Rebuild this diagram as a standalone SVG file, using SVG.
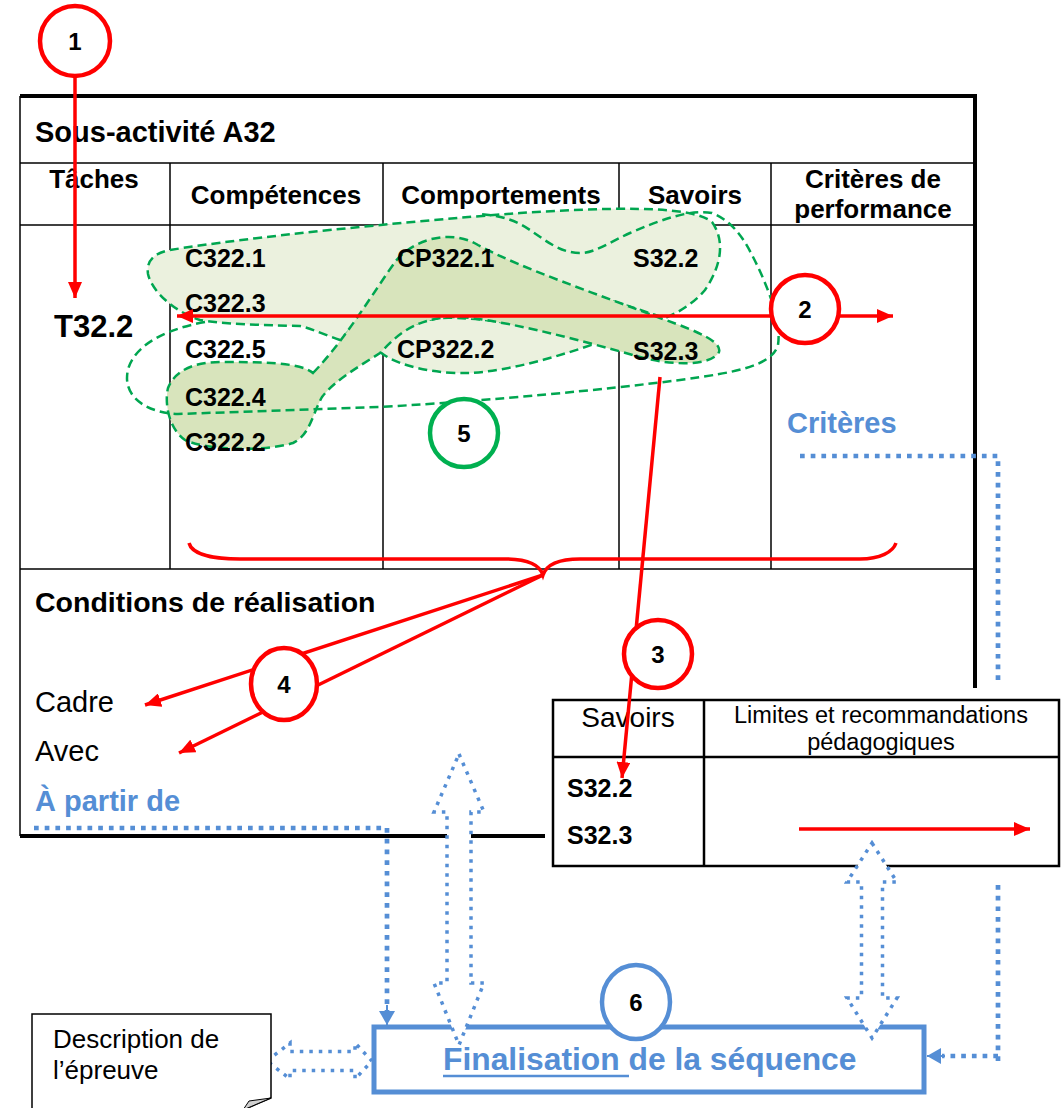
<svg xmlns="http://www.w3.org/2000/svg" width="1062" height="1108" viewBox="0 0 1062 1108">
<defs>
<style>
.t{font-family:"Liberation Sans",Arial,sans-serif;fill:#000}
.b{font-weight:bold}
.bl{fill:#558ED5}
.thin{stroke:#000;stroke-width:1.5;fill:none}
.thick{stroke:#000;stroke-width:4;fill:none}
.red{stroke:#FF0000;stroke-width:3.5;fill:none}
.rc{stroke:#FF0000;stroke-width:4.5;fill:#fff}
.gd{stroke:#00A650;stroke-width:2.5;stroke-dasharray:9 5}
.dot{stroke:#558ED5;stroke-width:4.7;stroke-dasharray:4.7 6;fill:none}
.hol{stroke:#558ED5;stroke-width:3.5;stroke-dasharray:3.5 6;fill:#fff}
</style>
<marker id="ra" viewBox="0 0 16 14" refX="16" refY="7" markerWidth="16" markerHeight="14" markerUnits="userSpaceOnUse" orient="auto"><path d="M0,0 L16,7 L0,14 z" fill="#FF0000"/></marker>
<marker id="ba" viewBox="0 0 14 16" refX="14" refY="8" markerWidth="14" markerHeight="16" markerUnits="userSpaceOnUse" orient="auto"><path d="M0,0 L14,8 L0,16 z" fill="#558ED5"/></marker>
</defs>
<rect width="1062" height="1108" fill="#fff"/>

<g id="table">
<line class="thick" x1="20" y1="96" x2="977" y2="96"/>
<line class="thick" x1="975" y1="94" x2="975" y2="688"/>
<line class="thin" x1="20" y1="96" x2="20" y2="836"/>
<line class="thin" x1="20" y1="163" x2="975" y2="163"/>
<line class="thin" x1="20" y1="225" x2="975" y2="225"/>
<line class="thin" x1="20" y1="569" x2="975" y2="569"/>
<line class="thin" x1="170" y1="163" x2="170" y2="569"/>
<line class="thin" x1="383" y1="163" x2="383" y2="569"/>
<line class="thin" x1="619" y1="163" x2="619" y2="569"/>
<line class="thin" x1="771" y1="163" x2="771" y2="569"/>
<line class="thick" x1="20" y1="836" x2="545" y2="836"/>
<text class="t b" x="35" y="142" font-size="29">Sous-activité A32</text>
<text class="t b" x="94" y="188" font-size="26" text-anchor="middle">Tâches</text>
<text class="t b" x="276" y="204" font-size="26" text-anchor="middle">Compétences</text>
<text class="t b" x="501" y="204" font-size="26" text-anchor="middle">Comportements</text>
<text class="t b" x="695" y="204" font-size="26" text-anchor="middle">Savoirs</text>
<text class="t b" x="873" y="188" font-size="26" text-anchor="middle">Critères de</text>
<text class="t b" x="873" y="218" font-size="26" text-anchor="middle">performance</text>
<text class="t b" x="35" y="612" font-size="28.5">Conditions de réalisation</text>
<text class="t" x="35" y="712" font-size="29">Cadre</text>
<text class="t" x="35" y="761" font-size="29">Avec</text>
<text class="t b bl" x="35" y="811" font-size="29">À partir de</text>
<text class="t b bl" x="787" y="433" font-size="29">Critères</text>
</g>

<g id="green-groups">
<path class="gd" fill="#EBF1DE" d="M170,250 C250,237 400,222 520,213 C600,208 690,204 712,222 C725,240 722,265 705,290 C695,302 680,312 665,318 L600,297 L500,262 L450,240 L400,262 L360,320 L340,340 C320,333 310,328 300,326 C260,325 220,324 200,320 C175,312 152,292 148,274 C146,260 155,253 170,250 Z"/>
<path class="gd" fill="#EBF1DE" d="M380,352 C400,368 440,374 470,373 C510,371 560,356 600,342 C560,330 480,316 440,318 C410,322 390,335 380,352 Z"/>
<path class="gd" fill="#D8E4BC" d="M313,373 C345,340 375,290 395,262 C412,240 450,228 478,245 C520,268 600,295 660,318 C700,332 722,342 719,352 C712,366 672,366 640,357 C580,340 490,316 450,317 C410,320 395,338 380,353 C360,366 335,380 322,397 C312,415 310,435 293,443 C265,452 205,450 185,440 C170,430 164,405 168,388 C175,370 195,362 220,362 C260,362 300,362 313,373 Z"/>
<path class="gd" fill="none" d="M205,322 C160,330 127,350 127,378 C127,400 150,413 178,414 L380,407 C500,400 600,390 680,380 C740,372 772,365 778,345 C782,320 765,280 752,255 C742,235 730,220 712,213 C690,209 660,220 630,233 C610,242 595,253 580,253 C560,253 545,240 530,230 C515,220 500,215 478,214"/>
</g>

<g id="table-texts">
<text class="t b" x="54" y="337" font-size="31">T32.2</text>
<text class="t b" x="185" y="267" font-size="25">C322.1</text>
<text class="t b" x="185" y="312" font-size="25">C322.3</text>
<text class="t b" x="185" y="358" font-size="25">C322.5</text>
<text class="t b" x="185" y="406" font-size="25">C322.4</text>
<text class="t b" x="185" y="451" font-size="25">C322.2</text>
<text class="t b" x="397" y="267" font-size="25">CP322.1</text>
<text class="t b" x="397" y="358" font-size="25">CP322.2</text>
<text class="t b" x="633" y="267" font-size="25">S32.2</text>
<text class="t b" x="633" y="360" font-size="25">S32.3</text>
</g>

<g id="savoirs-box">
<rect x="553" y="700" width="506" height="166" fill="#fff" stroke="#000" stroke-width="2.5"/>
<line x1="704" y1="700" x2="704" y2="866" stroke="#000" stroke-width="2.5"/>
<line x1="553" y1="757" x2="1059" y2="757" stroke="#000" stroke-width="2.5"/>
<text class="t" x="628" y="727" font-size="28" text-anchor="middle">Savoirs</text>
<text class="t" x="881" y="723" font-size="23.5" text-anchor="middle">Limites et recommandations</text>
<text class="t" x="881" y="750" font-size="23.5" text-anchor="middle">pédagogiques</text>
<text class="t b" x="567" y="797" font-size="25">S32.2</text>
<text class="t b" x="567" y="844" font-size="25">S32.3</text>
</g>

<g id="connectors">
<line class="red" x1="75" y1="77" x2="75" y2="298" marker-end="url(#ra)"/>
<line class="red" x1="770" y1="316" x2="177" y2="316" marker-end="url(#ra)"/>
<line class="red" x1="840" y1="316" x2="893" y2="316" marker-end="url(#ra)"/>
<line class="red" x1="660" y1="377" x2="622" y2="778" marker-end="url(#ra)"/>
<path class="red" d="M189,543 C192,555 215,559 240,559 L505,559 C530,559 540,566 543,575 C546,566 556,559 580,559 L860,559 C880,559 893,552 896,543"/>
<line class="red" x1="543" y1="575" x2="145" y2="705" marker-end="url(#ra)"/>
<line class="red" x1="543" y1="575" x2="179" y2="753" marker-end="url(#ra)"/>
<line class="red" x1="799" y1="829" x2="1030" y2="829" marker-end="url(#ra)"/>
<path class="dot" d="M34,828 H387 V1011"/>
<line x1="387" y1="1005" x2="387" y2="1025" stroke="#558ED5" stroke-width="2" marker-end="url(#ba)"/>
<path class="dot" d="M800,456 H998 V683"/>
<path class="dot" d="M998,885 V1067"/>
<path class="dot" d="M998,1056 H942"/>
<line x1="945" y1="1056" x2="927" y2="1056" stroke="#558ED5" stroke-width="2" marker-end="url(#ba)"/>
</g>

<g id="node-finalisation">
<rect x="374" y="1027" width="550" height="65" fill="#fff" stroke="#558ED5" stroke-width="5"/>
<text class="t b bl" x="443" y="1070" font-size="31.8">Finalisation de la séquence</text>
<line x1="443" y1="1076" x2="629" y2="1076" stroke="#558ED5" stroke-width="2.5"/>
</g>

<g id="hollow-arrows">
<polygon class="hol" points="459,754 484,812 471,812 471,983 484,983 459,1045 434,983 447,983 447,812 434,812"/>
<polygon class="hol" points="872,843 897,882 882.5,882 882.5,998 897,998 872,1038 847,998 861.5,998 861.5,882 847,882"/>
<polygon class="hol" points="267,1061 290,1043 290,1051.5 355,1051.5 355,1043 372,1061 355,1079 355,1070.5 290,1070.5 290,1079"/>
</g>

<g id="node-description">
<path d="M32,1110 L32,1014 L271,1014 L271,1098 L243,1110" fill="#fff" stroke="#000" stroke-width="1.5"/>
<polygon points="271,1098 243,1110 249,1101" fill="#cfcfcf" stroke="#000" stroke-width="1"/>
<text class="t" x="53" y="1048" font-size="26">Description de</text>
<text class="t" x="53" y="1079" font-size="26">l’épreuve</text>
</g>

<g id="marker-1"><circle class="rc" cx="75" cy="41" r="35"/><text class="t b" x="75" y="50" font-size="24" text-anchor="middle">1</text></g>
<g id="marker-2"><circle class="rc" cx="805" cy="309" r="34"/><text class="t b" x="805" y="318" font-size="24" text-anchor="middle">2</text></g>
<g id="marker-3"><circle class="rc" cx="658" cy="654" r="34"/><text class="t b" x="658" y="663" font-size="24" text-anchor="middle">3</text></g>
<g id="marker-4"><ellipse class="rc" cx="284" cy="684" rx="33" ry="36"/><text class="t b" x="284" y="693" font-size="24" text-anchor="middle">4</text></g>
<g id="marker-5"><circle cx="464" cy="433" r="34" fill="#fff" stroke="#00B050" stroke-width="4.5"/><text class="t b" x="464" y="442" font-size="24" text-anchor="middle">5</text></g>
<g id="marker-6"><ellipse cx="636" cy="1002" rx="34" ry="37" fill="#fff" stroke="#558ED5" stroke-width="4.5"/><text class="t b" x="636" y="1011" font-size="24" text-anchor="middle">6</text></g>
</svg>
